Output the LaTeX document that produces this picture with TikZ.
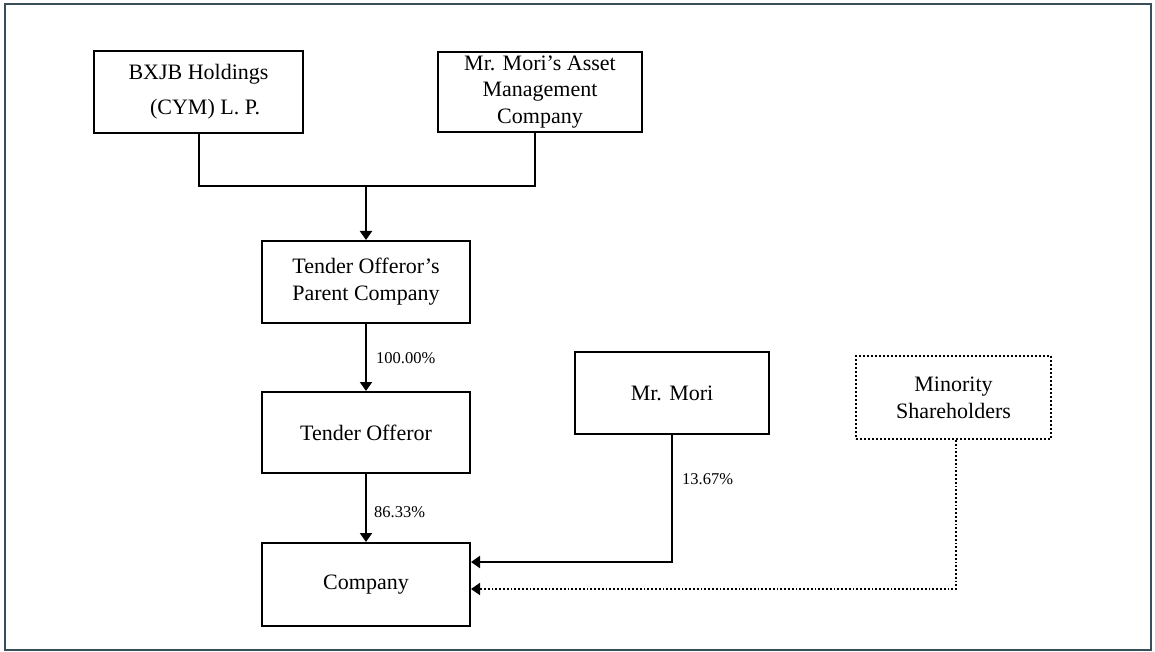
\documentclass[tikz,border=0pt]{standalone}
\usepackage{fontspec}
\setmainfont{Liberation Serif}
\usetikzlibrary{arrows.meta}
\definecolor{framec}{RGB}{58,78,90}
\begin{document}
\begin{tikzpicture}[x=1pt,y=-1pt,
  box/.style={draw=black,line width=2pt,rectangle,inner sep=0pt,align=center,
    font=\fontsize{22}{27}\selectfont},
  dotbox/.style={box,dotted,line width=1.8pt},
  conn/.style={line width=2pt},
  arr/.style={conn,-{Triangle[width=12pt,length=9pt]}},
  darr/.style={line width=1.8pt,dotted,-{Triangle[width=12pt,length=9pt]}},
  pct/.style={anchor=west,inner sep=0pt,font=\fontsize{16.5}{19}\selectfont}]
\useasboundingbox (0,0) rectangle (1155,652);
\draw[framec,line width=1.8pt] (5,4) rectangle (1151,650);

\node[box,minimum width=209pt,minimum height=82pt,font=\fontsize{22}{35}\selectfont] (bxjb) at (198.5,92) {BXJB Holdings\\\hspace*{0.6em}(CYM) L. P.};
\node[box,minimum width=204pt,minimum height=80pt,font=\fontsize{22}{26.5}\selectfont] (asset) at (540,92) {Mr. Mori’s Asset\\Management\\Company};
\node[box,minimum width=208pt,minimum height=82pt] (parent) at (366,282) {Tender Offeror’s\\Parent Company};
\node[box,minimum width=208pt,minimum height=81pt] (tender) at (366,432.5) {Tender Offeror};
\node[box,minimum width=208pt,minimum height=83pt] (company) at (366,584.5) {Company};
\node[box,minimum width=194pt,minimum height=82pt] (mori) at (672,393) {Mr. Mori};
\node[dotbox,minimum width=195pt,minimum height=83pt] (minority) at (953.5,397.5) {Minority\\Shareholders};

\coordinate (j) at (366,186);
\draw[conn] (bxjb.south) |- (j);
\draw[conn] ([xshift=-5pt]asset.south) |- (j);
\draw[arr] (j) -- (parent.north);

\draw[arr] (parent.south) -- (tender.north);
\node[pct] (p100) at (376,358) {100.00\%};

\draw[arr] (tender.south) -- (company.north);
\node[pct] (p86) at (374,512) {86.33\%};

\draw[arr] (mori.south) |- ([yshift=22.5pt]company.east);
\node[pct] (p13) at (682,479) {13.67\%};

\draw[darr] ([xshift=2.5pt]minority.south) |- ([yshift=-4.5pt]company.east);
\end{tikzpicture}
\end{document}
